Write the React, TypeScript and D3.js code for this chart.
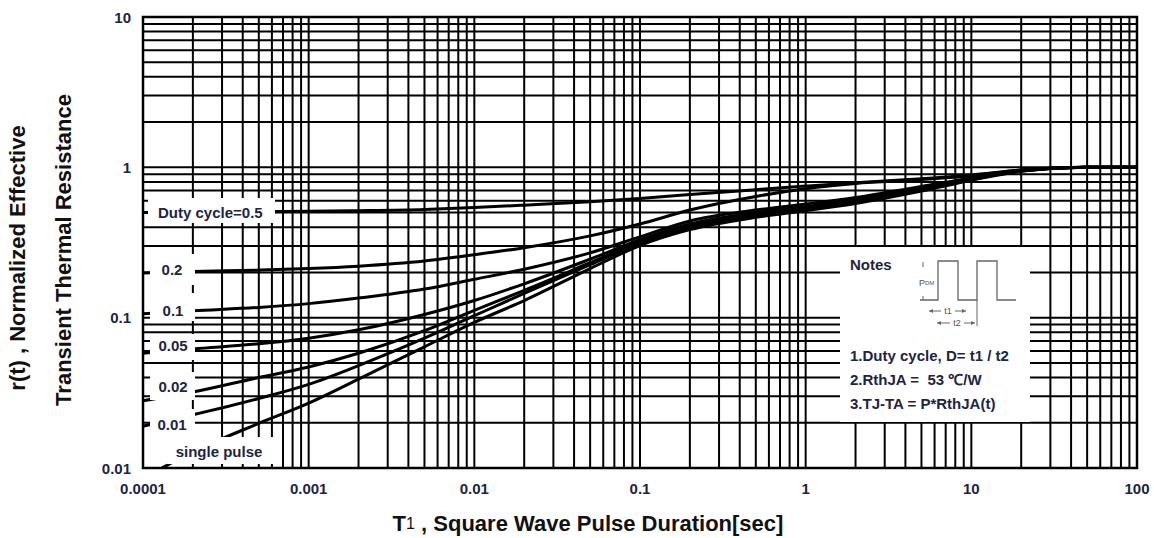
import React from 'react';
import * as d3 from 'd3';

// pulse duration samples (sec)
const times = [0.0001, 0.0002, 0.0005, 0.001, 0.002, 0.005, 0.01, 0.02, 0.05, 0.1, 0.2, 0.5, 1, 2, 5, 10, 20, 50, 100];
const singleTimes = [0.00013, 0.0002, 0.0005, 0.001, 0.002, 0.005, 0.01, 0.02, 0.05, 0.1, 0.2, 0.5, 1, 2, 5, 10, 20, 50, 100];

// r(t)
const duty05 = [0.5, 0.505, 0.507, 0.51, 0.515, 0.525, 0.54, 0.56, 0.59, 0.62, 0.66, 0.71, 0.75, 0.79, 0.84, 0.89, 0.96, 1.0, 1.0];
const duty02 = [0.198, 0.203, 0.207, 0.212, 0.22, 0.238, 0.262, 0.292, 0.35, 0.42, 0.52, 0.64, 0.72, 0.78, 0.83, 0.88, 0.96, 1.0, 1.0];
const duty01 = [0.106, 0.111, 0.117, 0.124, 0.135, 0.155, 0.18, 0.21, 0.27, 0.345, 0.44, 0.52, 0.57, 0.63, 0.745, 0.85, 0.955, 1.0, 1.0];
const duty005 = [0.058, 0.062, 0.067, 0.073, 0.083, 0.105, 0.13, 0.168, 0.245, 0.33, 0.42, 0.5, 0.55, 0.61, 0.73, 0.84, 0.95, 1.0, 1.0];
const duty002 = [0.028, 0.032, 0.04, 0.047, 0.058, 0.082, 0.112, 0.152, 0.232, 0.32, 0.405, 0.485, 0.535, 0.595, 0.715, 0.835, 0.95, 1.0, 1.0];
const duty001 = [0.019, 0.0226, 0.029, 0.036, 0.048, 0.073, 0.103, 0.145, 0.225, 0.312, 0.395, 0.475, 0.525, 0.585, 0.705, 0.83, 0.945, 1.0, 1.0];
const singlePulse = [0.01, 0.0128, 0.0198, 0.027, 0.039, 0.064, 0.093, 0.13, 0.212, 0.302, 0.385, 0.465, 0.515, 0.575, 0.695, 0.82, 0.94, 1.0, 1.0];

const xTickValues = [0.0001, 0.001, 0.01, 0.1, 1, 10, 100];
const xTickLabels = ['0.0001', '0.001', '0.01', '0.1', '1', '10', '100'];
const yTickValues = [0.01, 0.1, 1, 10];
const yTickLabels = ['0.01', '0.1', '1', '10'];

const noteLines = ['1.Duty cycle, D= t1 / t2', '2.RthJA =  53 \u2103/W', '3.TJ-TA = P*RthJA(t)'];

const FONT = '"Liberation Sans", Arial, sans-serif';
const LABEL = '#1c2541';

const App = () => {
  const left = 143, right = 1137, top = 17, bottom = 468;

  const x = d3.scaleLog().domain([0.0001, 100]).range([left, right]);
  const y = d3.scaleLog().domain([0.01, 10]).range([bottom, top]);

  const line = d3
    .line<[number, number]>()
    .x((d) => x(d[0]))
    .y((d) => y(d[1]))
    .curve(d3.curveMonotoneX);

  const series = [duty05, duty02, duty01, duty005, duty002, duty001].map((vals) =>
    times.map((t, i) => [t, vals[i]] as [number, number])
  );
  series.push(singleTimes.map((t, i) => [t, singlePulse[i]] as [number, number]));

  // white boxes behind the curve labels
  const labels = [
    { text: 'Duty cycle=0.5', box: [148, 198, 127, 25], tx: 158, ty: 212, anchor: 'start' },
    { text: '0.2', box: [150, 254, 45, 31], tx: 172, ty: 269, anchor: 'middle' },
    { text: '0.1', box: [150, 293, 45, 28], tx: 173, ty: 310, anchor: 'middle' },
    { text: '0.05', box: [150, 334, 45, 26], tx: 173, ty: 345, anchor: 'middle' },
    { text: '0.02', box: [150, 372, 45, 28], tx: 173, ty: 386, anchor: 'middle' },
    { text: '0.01', box: [150, 409, 45, 28], tx: 172, ty: 424, anchor: 'middle' },
    { text: 'single pulse', box: [167, 437, 106, 27], tx: 219, ty: 451, anchor: 'middle' },
  ];

  // notes panel
  const nx = 840, ny = 247;
  const base = ny + 53, high = ny + 14;
  const wave = [
    [920, base], [938, base], [938, high], [958, high], [958, base],
    [977, base], [977, high], [997, high], [997, base], [1016, base],
  ];

  return (
    <svg width={1154} height={538} style={{ position: 'absolute', left: 0, top: 0, background: '#fff' }} fontFamily={FONT}>
      <defs>
        <clipPath id="plot">
          <rect x={left} y={top} width={right - left} height={bottom - top} />
        </clipPath>
      </defs>

      {/* grid */}
      <g stroke="#000" strokeWidth={2}>
        {x.ticks().map((v) => (
          <line key={'gx' + v} x1={x(v)} x2={x(v)} y1={top} y2={bottom} />
        ))}
        {y.ticks().map((v) => (
          <line key={'gy' + v} x1={left} x2={right} y1={y(v)} y2={y(v)} />
        ))}
      </g>

      {/* curves */}
      <g clipPath="url(#plot)" fill="none" stroke="#000" strokeWidth={3} strokeLinecap="round">
        {series.map((s, i) => (
          <path key={i} d={line(s) || ''} />
        ))}
      </g>

      {/* label boxes */}
      {labels.map((l) => (
        <rect key={'b' + l.text} x={l.box[0]} y={l.box[1]} width={l.box[2]} height={l.box[3]} fill="#fff" />
      ))}
      {labels.map((l) => (
        <text key={'t' + l.text} x={l.tx} y={l.ty} textAnchor={l.anchor} dominantBaseline="central"
          fontSize={15} fontWeight="bold" fill={LABEL}>
          {l.text}
        </text>
      ))}

      {/* notes */}
      <rect x={nx} y={ny} width={190} height={175} fill="#fff" />
      <text x={850} y={264} dominantBaseline="central" fontSize={15} fontWeight="bold" fill={LABEL}>Notes</text>
      <path d={d3.line()(wave as [number, number][]) || ''} fill="none" stroke="#666" strokeWidth={1.3} />
      <g stroke="#666" strokeWidth={1}>
        <line x1={923} x2={923} y1={high + 1} y2={high + 6} />
        <line x1={923} x2={923} y1={base - 4} y2={base} />
        <line x1={929} x2={966} y1={311} y2={311} />
        <line x1={937} x2={975} y1={323} y2={323} />
        <line x1={977} x2={977} y1={base} y2={326} />
      </g>
      <g fill="#666">
        <path d="M929,311 l4,-2 v4 z" />
        <path d="M966,311 l-4,-2 v4 z" />
        <path d="M937,323 l4,-2 v4 z" />
        <path d="M975,323 l-4,-2 v4 z" />
      </g>
      <rect x={941} y={305} width={14} height={12} fill="#fff" />
      <rect x={950} y={317} width={14} height={12} fill="#fff" />
      <text x={948} y={311} textAnchor="middle" dominantBaseline="central" fontSize={9} fill="#555">t1</text>
      <text x={957} y={323} textAnchor="middle" dominantBaseline="central" fontSize={9} fill="#555">t2</text>
      <text x={919} y={283} dominantBaseline="central" fontSize={9} fill="#555">
        P<tspan fontSize={6}>DM</tspan>
      </text>
      {noteLines.map((t, i) => (
        <text key={t} x={850} y={355 + i * 24} dominantBaseline="central" fontSize={15} fontWeight="bold" fill={LABEL}
          style={{ whiteSpace: 'pre' }}>
          {t}
        </text>
      ))}

      {/* frame */}
      <rect x={left} y={top} width={right - left} height={bottom - top} fill="none" stroke="#000" strokeWidth={2.5} />

      {/* axis tick labels */}
      {xTickValues.map((v, i) => (
        <text key={'xl' + v} x={x(v)} y={488} textAnchor="middle" dominantBaseline="central"
          fontSize={15} fontWeight="bold" fill={LABEL}>
          {xTickLabels[i]}
        </text>
      ))}
      {yTickValues.map((v, i) => (
        <text key={'yl' + v} x={131} y={y(v)} textAnchor="end" dominantBaseline="central"
          fontSize={15} fontWeight="bold" fill={LABEL}>
          {yTickLabels[i]}
        </text>
      ))}

      {/* axis titles */}
      <text x={588} y={523} textAnchor="middle" dominantBaseline="central" fontSize={22} fontWeight="bold" fill="#111">
        T<tspan fontSize={16} fontWeight="normal">1</tspan> , Square Wave Pulse Duration[sec]
      </text>
      <text transform="translate(25,258) rotate(-90)" textAnchor="middle" fontSize={22} fontWeight="bold" fill="#111">
        r(t) , Normalized Effective
      </text>
      <text transform="translate(71,250) rotate(-90)" textAnchor="middle" fontSize={22} fontWeight="bold" fill="#111">
        Transient Thermal Resistance
      </text>
    </svg>
  );
};

export default App;
